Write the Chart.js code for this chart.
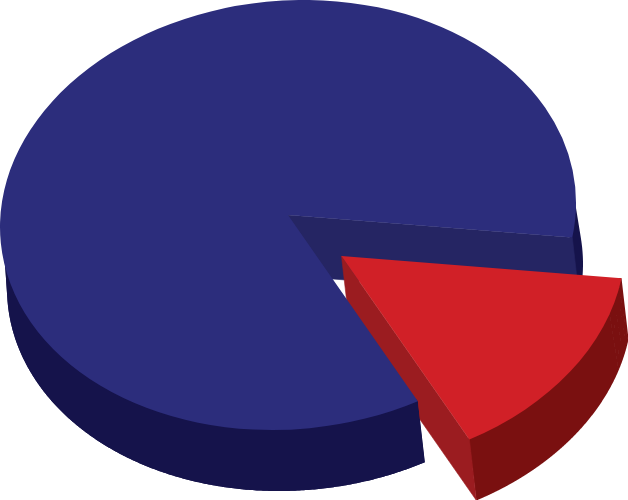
<!DOCTYPE html>
<html>
<head>
<meta charset="utf-8">
<title>Pie</title>
<script src="https://cdn.jsdelivr.net/npm/chart.js@4"></script>
<style>
    html, body { margin: 0; padding: 0; background: #fff; }
    canvas { display: block; }
</style>
</head>
<body>
<canvas id="pie" width="628" height="500"></canvas>
<script>
const sliceLabels = ['Red', 'Blue'];
const sliceValues = [15, 85];
const topColors = ['#d12027', '#2c2d7c'];
const rimColors = ['#7a1010', '#15134b'];
const wallColors = ['#9b1c20', '#252563'];

// Tilted view of the pie: the flat circle is mapped onto an ellipse
const view = { a: 288, b: -12, d: 214.7, centerX: 288, centerY: 215, depthX: 7, depthY: 61 };
// Red slice pulled out of the pie
const pulled = { x: 341.5, y: 256, scale: 0.985 };

function placeFor(i) {
    return i === 0
        ? { x: pulled.x, y: pulled.y, scale: pulled.scale }
        : { x: view.centerX, y: view.centerY, scale: 1 };
}

// Screen position of a point on the rim of an arc
function rimPoint(place, angle, shrink = 1) {
    const u = Math.cos(angle) * place.scale * shrink;
    const v = Math.sin(angle) * place.scale * shrink;
    return { x: place.x + view.a * u, y: place.y + view.b * u + view.d * v };
}

function lowered(p) {
    return { x: p.x + view.depthX, y: p.y + view.depthY };
}

function fillSector(ctx, arc, place, color) {
    const R = arc.outerRadius;
    ctx.save();
    ctx.translate(place.x, place.y);
    ctx.transform(view.a * place.scale / R, view.b * place.scale / R, 0, view.d * place.scale / R, 0, 0);
    ctx.beginPath();
    ctx.moveTo(0, 0);
    ctx.arc(0, 0, R, arc.startAngle, arc.endAngle);
    ctx.closePath();
    ctx.fillStyle = color;
    ctx.fill();
    ctx.restore();
}

// Adds a polygon to the current path, always wound the same way
function addPoly(ctx, pts) {
    let area = 0;
    pts.forEach((p, i) => {
        const q = pts[(i + 1) % pts.length];
        area += p.x * q.y - q.x * p.y;
    });
    const list = area < 0 ? pts.slice().reverse() : pts;
    list.forEach((p, i) => i === 0 ? ctx.moveTo(p.x, p.y) : ctx.lineTo(p.x, p.y));
    ctx.closePath();
}

// Outer side of the slice, one path of small strips so front and back never cancel.
// The upper end runs a little inside the top face so no seam shows between them.
function fillRim(ctx, arc, place, color) {
    const steps = 720;
    const span = arc.endAngle - arc.startAngle;
    const angleAt = i => arc.startAngle + span * i / steps;
    ctx.beginPath();
    for (let i = 0; i < steps; i++) {
        addPoly(ctx, [
            rimPoint(place, angleAt(i), 0.99),
            rimPoint(place, angleAt(i + 1), 0.99),
            lowered(rimPoint(place, angleAt(i + 1))),
            lowered(rimPoint(place, angleAt(i)))
        ]);
    }
    [0, steps].forEach(i => {
        const p = rimPoint(place, angleAt(i));
        addPoly(ctx, [p, rimPoint(place, angleAt(i), 0.99), lowered(p)]);
    });
    ctx.fillStyle = color;
    ctx.fill();
}

// Flat cut face along one radius of the slice
function fillWall(ctx, place, angle, color) {
    const edge = rimPoint(place, angle);
    const bottom = lowered(edge);
    const inner = lowered(place);
    ctx.beginPath();
    ctx.moveTo(place.x, place.y);
    ctx.lineTo(edge.x, edge.y);
    ctx.lineTo(bottom.x, bottom.y);
    ctx.lineTo(inner.x, inner.y);
    ctx.closePath();
    ctx.fillStyle = color;
    ctx.strokeStyle = color;
    ctx.lineWidth = 0.6;
    ctx.fill();
    ctx.stroke();
}

const pie3d = {
    id: 'pie3d',
    beforeDatasetsDraw(chart) {
        const ctx = chart.ctx;
        const arcs = chart.getDatasetMeta(0).data;
        const red = arcs[0];
        const blue = arcs[1];
        const redPlace = placeFor(0);
        const bluePlace = placeFor(1);

        fillRim(ctx, blue, bluePlace, rimColors[1]);
        fillWall(ctx, bluePlace, blue.endAngle, wallColors[1]);

        fillRim(ctx, red, redPlace, rimColors[0]);
        fillWall(ctx, redPlace, red.endAngle, wallColors[0]);
        fillSector(ctx, red, redPlace, topColors[0]);

        // The front of the blue part sits over the red slice
        const edge = rimPoint(bluePlace, blue.startAngle);
        const bottom = lowered(edge);
        ctx.save();
        ctx.beginPath();
        ctx.moveTo(bluePlace.x, bluePlace.y);
        ctx.lineTo(edge.x, edge.y);
        ctx.lineTo(bottom.x, bottom.y);
        ctx.lineTo(bottom.x, chart.height);
        ctx.lineTo(0, chart.height);
        ctx.lineTo(0, bluePlace.y);
        ctx.closePath();
        ctx.clip();
        fillRim(ctx, blue, bluePlace, rimColors[1]);
        ctx.restore();
        fillSector(ctx, blue, bluePlace, topColors[1]);

        return false;
    }
};

new Chart(document.getElementById('pie'), {
    type: 'pie',
    data: {
        labels: sliceLabels,
        datasets: [{
            data: sliceValues,
            backgroundColor: topColors,
            borderWidth: 0
        }]
    },
    options: {
        responsive: false,
        animation: false,
        rotation: 99.2,
        plugins: {
            legend: { display: false },
            tooltip: { enabled: false }
        }
    },
    plugins: [pie3d]
});
</script>
</body>
</html>
